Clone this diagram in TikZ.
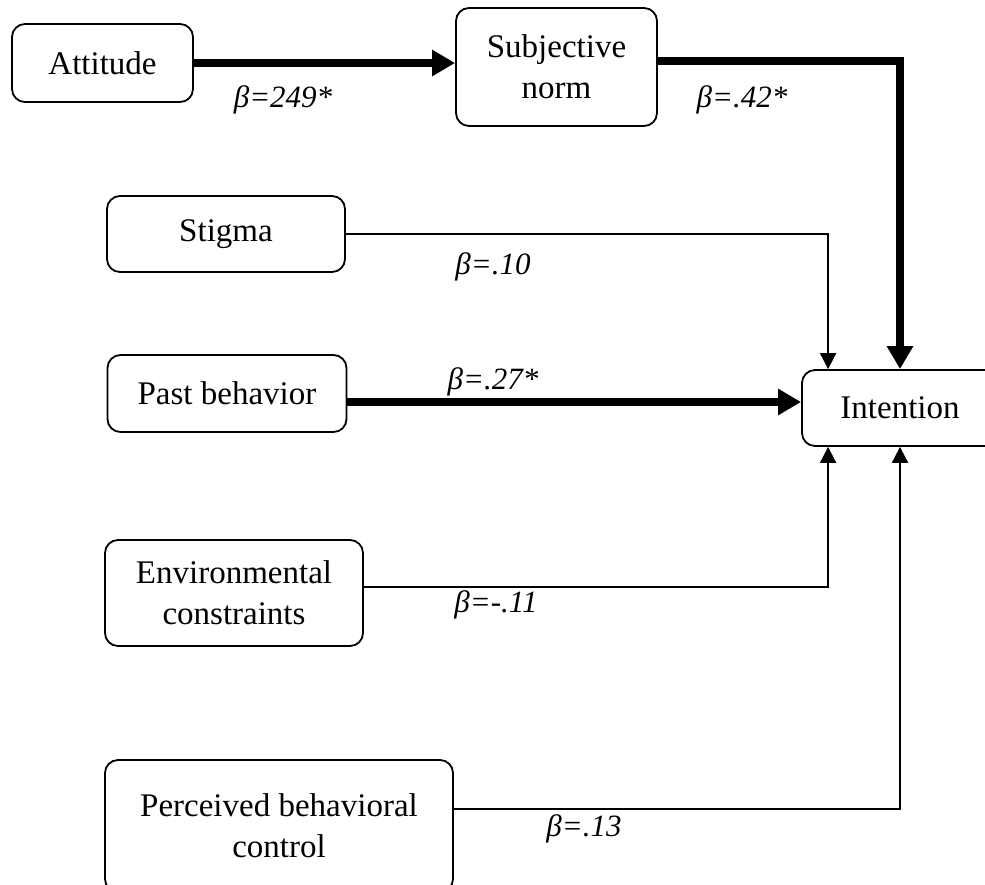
\documentclass[tikz,border=0pt]{standalone}
\usepackage{fontspec}
\setmainfont{Liberation Serif}
\usetikzlibrary{positioning, arrows.meta}

\begin{document}
\begin{tikzpicture}[
    x=1pt, y=-1pt,
    construct/.style={draw, rectangle, rounded corners=13pt, line width=1.8pt, align=center, inner sep=0pt, font=\fontsize{33}{41}\selectfont},
    coef/.style={font=\fontsize{31}{36}\selectfont\itshape},
    weakpath/.style={line width=1.9pt, -{Triangle[length=16pt, width=16pt]}},
    strongpath/.style={line width=7.5pt, -{Triangle[length=23pt, width=25pt]}}
]
\useasboundingbox (0,0) rectangle (985,884);
\clip (0,0) rectangle (985,884);

% Constructs
\node[construct, minimum width=181pt, minimum height=78pt] (Att) at (102.5, 63) {Attitude};
\node[construct, minimum width=201pt, minimum height=118pt] (SN) at (556.5, 67) {Subjective\\norm};
\node[construct, minimum width=238pt, minimum height=76pt] (Stig) at (226, 234) {Stigma};
\node[construct, minimum width=239pt, minimum height=77pt] (Past) at (227, 393.5) {Past behavior};
\node[construct, minimum width=258pt, minimum height=106pt] (Env) at (234, 593) {Environmental\\constraints};
\node[construct, minimum width=348pt, minimum height=132pt] (PBC) at (279, 826) {Perceived behavioral\\control};
\node[construct, minimum width=196pt, minimum height=76pt] (Int) at (900, 408) {Intention};

% Entry points on Intention
\coordinate (StigIn) at ([xshift=27pt]Int.north west);
\coordinate (EnvIn) at ([xshift=27pt]Int.south west);
\coordinate (PastIn) at ([yshift=6pt]Int.west);
\coordinate (SNOut) at ([yshift=6pt]SN.east);
\coordinate (EnvOut) at ([yshift=6pt]Env.east);
\coordinate (PBCOut) at ([yshift=17pt]PBC.east);

\draw[strongpath] (Att.east) -- (Att.east -| SN.west);
\draw[strongpath] (SNOut) -| (Int.north);
\draw[weakpath] (Stig.east) -| (StigIn);
\draw[strongpath] (PastIn -| Past.east) -- (PastIn);
\draw[weakpath] (EnvOut) -| (EnvIn);
\draw[weakpath] (PBCOut) -| (Int.south);

% Coefficients
\node[coef] (cAtt) at (283, 100) {β=249*};
\node[coef] (cSN) at (742, 100) {β=.42*};
\node[coef] (cStig) at (493, 267) {β=.10};
\node[coef] (cPast) at (493, 382) {β=.27*};
\node[coef] (cEnv) at (496, 605) {β=-.11};
\node[coef] (cPBC) at (584, 829) {β=.13};

\end{tikzpicture}
\end{document}
